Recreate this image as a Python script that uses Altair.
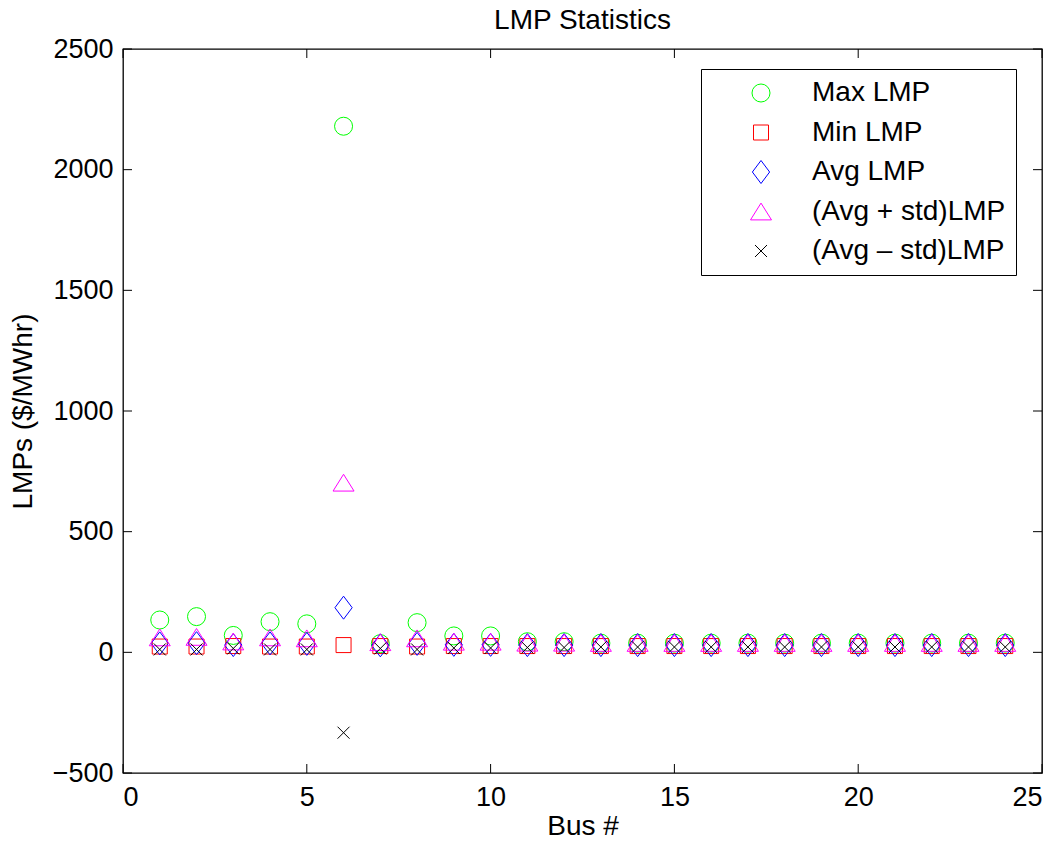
import altair as alt
import pandas as pd

bus = list(range(1, 25))
max_lmp = [134, 148, 70, 127, 118, 2180, 36, 123, 68, 68, 44, 44,
           38, 38, 38, 38, 38, 38, 38, 38, 38, 38, 38, 38]
min_lmp = [24, 24, 26, 24, 24, 30, 26, 24, 26, 26, 26, 26,
           26, 26, 26, 26, 26, 26, 26, 26, 26, 26, 26, 26]
avg_lmp = [37, 38, 30, 37, 35, 185, 29, 35, 31, 31, 30, 30,
           30, 30, 30, 30, 30, 30, 30, 30, 30, 30, 30, 30]
avg_plus_std = [62, 64, 45, 62, 58, 703, 42, 58, 44, 44, 40, 40,
                39, 39, 39, 39, 39, 39, 39, 39, 39, 39, 39, 39]
avg_minus_std = [12, 12, 16, 12, 12, -333, 16, 12, 18, 18, 20, 20,
                 22, 22, 22, 22, 22, 22, 22, 22, 22, 22, 22, 22]

series_names = ["Max LMP", "Min LMP", "Avg LMP", "(Avg + std)LMP", "(Avg – std)LMP"]
series_colors = ["#00ff00", "#ff0000", "#0000ff", "#ff00ff", "#000000"]
series_shapes = ["circle", "square",
                 "M 0 -1 L 0.75 0 L 0 1 L -0.75 0 Z",
                 "M 0 -0.8 L 1 0.8 L -1 0.8 Z",
                 "M -1 -1 L 1 1 M -1 1 L 1 -1"]
series_sizes = [324, 225, 529, 441, 144]

x_ticks = [0, 5, 10, 15, 20, 25]
y_ticks = [-500, 0, 500, 1000, 1500, 2000, 2500]

W, H = 919, 724
TL = 9
FONT = "Liberation Sans"

rows = []
for i, (name, vals) in enumerate(zip(series_names, [max_lmp, min_lmp, avg_lmp, avg_plus_std, avg_minus_std])):
    for b, v in zip(bus, vals):
        rows.append({"bus": b, "lmp": v, "series": name, "k": i})
df = pd.DataFrame(rows)

xscale = alt.Scale(domain=[0, 25], nice=False, zero=False)
yscale = alt.Scale(domain=[-500, 2500], nice=False, zero=False)

xaxis = alt.Axis(values=x_ticks, format="d", ticks=False, domain=False, grid=False,
                 labelPadding=11, titlePadding=2, labelFontSize=27, labelFont=FONT,
                 labelColor="black", titleFont=FONT, titleFontSize=28,
                 titleFontWeight="normal", titleColor="black")
yaxis = alt.Axis(values=y_ticks, format="d", ticks=False, domain=False, grid=False,
                 labelPadding=10, titlePadding=15, labelFontSize=27, labelFont=FONT,
                 labelColor="black", titleFont=FONT, titleFontSize=28,
                 titleFontWeight="normal", titleColor="black")

points = alt.Chart(df).mark_point(filled=False, strokeWidth=1, opacity=1).encode(
    x=alt.X("bus:Q", scale=xscale, title="Bus #", axis=xaxis),
    y=alt.Y("lmp:Q", scale=yscale, title="LMPs ($/MWhr)", axis=yaxis),
    color=alt.Color("series:N", scale=alt.Scale(domain=series_names, range=series_colors),
                    legend=alt.Legend(title=None, orient="none", legendX=578, legendY=20,
                                      strokeColor="black", fillColor="white",
                                      padding=10, symbolOffset=36, labelOffset=37,
                                      rowPadding=11.5, symbolStrokeWidth=1,
                                      labelFontSize=28, labelFont=FONT,
                                      labelColor="black", labelLimit=400)),
    shape=alt.Shape("series:N", scale=alt.Scale(domain=series_names, range=series_shapes)),
    size=alt.Size("series:N", scale=alt.Scale(type="ordinal", domain=series_names, range=series_sizes)),
    order=alt.Order("k:Q"),
)

xt = pd.DataFrame({"bus": x_ticks})
yt = pd.DataFrame({"lmp": y_ticks})

xb = alt.Chart(xt).mark_rule(color="black", strokeWidth=1).encode(
    x=alt.X("bus:Q", scale=xscale, title="Bus #", axis=xaxis), y=alt.value(H), y2=alt.value(H - TL))
xtp = alt.Chart(xt).mark_rule(color="black", strokeWidth=1).encode(
    x=alt.X("bus:Q", scale=xscale, title="Bus #", axis=xaxis), y=alt.value(0), y2=alt.value(TL))
yl = alt.Chart(yt).mark_rule(color="black", strokeWidth=1).encode(
    y=alt.Y("lmp:Q", scale=yscale, title="LMPs ($/MWhr)", axis=yaxis), x=alt.value(0), x2=alt.value(TL))
yr = alt.Chart(yt).mark_rule(color="black", strokeWidth=1).encode(
    y=alt.Y("lmp:Q", scale=yscale, title="LMPs ($/MWhr)", axis=yaxis), x=alt.value(W), x2=alt.value(W - TL))

chart = alt.layer(points, xb, xtp, yl, yr).properties(
    width=W, height=H,
    background="white",
    title=alt.TitleParams("LMP Statistics", fontSize=28, font=FONT, fontWeight="normal",
                          color="black", offset=0, frame="group"),
    autosize=alt.AutoSizeParams(type="none"),
    padding={"left": 115, "top": 41, "right": 10, "bottom": 66},
).configure_view(stroke="black", strokeWidth=1.3)

chart.save("out.html", embed_options={"renderer": "svg", "actions": False})
